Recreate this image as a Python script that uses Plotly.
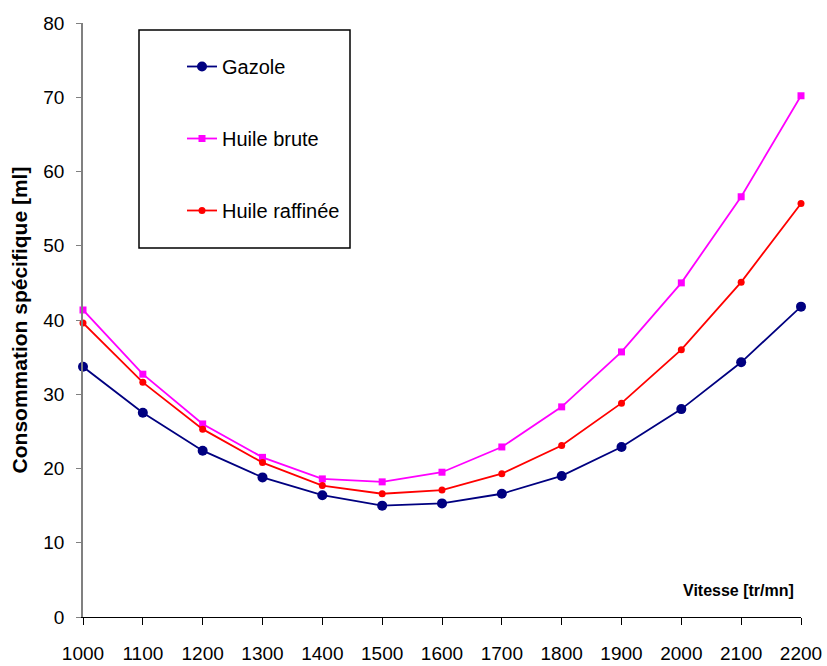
import plotly.graph_objects as go

vitesse = [1000, 1100, 1200, 1300, 1400, 1500, 1600, 1700, 1800, 1900, 2000, 2100, 2200]
gazole = [33.7, 27.5, 22.4, 18.8, 16.4, 15.0, 15.3, 16.6, 19.0, 22.9, 28.0, 34.3, 41.8]
huile_brute = [41.35, 32.7, 26.0, 21.5, 18.6, 18.2, 19.5, 22.9, 28.3, 35.7, 45.0, 56.6, 70.2]
huile_raffinee = [39.6, 31.6, 25.3, 20.8, 17.7, 16.6, 17.1, 19.3, 23.1, 28.8, 36.0, 45.1, 55.7]

W, H = 827, 666
L, R, T, B = 83, 26, 23, 49
pw, ph = W - L - R, H - T - B

def px(x):
    return (x - L) / pw

def py(y):
    return 1 - (y - T) / ph

FONT = "Arial, Liberation Sans, sans-serif"

fig = go.Figure()
fig.add_trace(go.Scatter(x=vitesse, y=gazole, name="Gazole", mode="lines+markers",
                         line=dict(color="#000080", width=1.8),
                         marker=dict(symbol="circle", size=10, color="#000080"),
                         legendgroup="a", cliponaxis=False))
fig.add_trace(go.Scatter(x=vitesse, y=huile_brute, name="Huile brute", mode="lines+markers",
                         line=dict(color="#FF00FF", width=1.8),
                         marker=dict(symbol="square", size=7, color="#FF00FF"),
                         legendgroup="b", cliponaxis=False))
fig.add_trace(go.Scatter(x=vitesse, y=huile_raffinee, name="Huile raffinée", mode="lines+markers",
                         line=dict(color="#FF0000", width=1.8),
                         marker=dict(symbol="circle", size=7, color="#FF0000"),
                         legendgroup="c", cliponaxis=False))

fig.add_shape(type="rect", xref="paper", yref="paper",
              x0=px(139), x1=px(350), y0=py(248), y1=py(30),
              line=dict(color="black", width=1.5), fillcolor="rgba(0,0,0,0)", layer="below")

fig.add_annotation(text="<b>Vitesse [tr/mn]</b>", xref="paper", yref="paper",
                   x=px(796), y=py(590), xanchor="right", yanchor="middle",
                   showarrow=False, font=dict(size=16, family=FONT, color="black"))

fig.update_layout(
    width=W, height=H,
    margin=dict(l=L, r=R, t=T, b=B, pad=0, autoexpand=False),
    paper_bgcolor="white", plot_bgcolor="white",
    font=dict(family=FONT, color="black"),
    showlegend=True,
    legend=dict(x=px(182), y=py(47), xanchor="left", yanchor="top",
                font=dict(size=20, family=FONT), tracegroupgap=43, borderwidth=0,
                bgcolor="rgba(0,0,0,0)", itemwidth=30),
    xaxis=dict(range=[1000, 2200], tickvals=vitesse, showgrid=False, zeroline=False,
               showline=True, linecolor="black", linewidth=1.2, automargin=False,
               ticks="outside", ticklen=7, tickcolor="black",
               tickfont=dict(size=19, family=FONT), ticklabelstandoff=12),
    yaxis=dict(range=[0, 80], dtick=10, showgrid=False, zeroline=False,
               showline=True, linecolor="#808080", linewidth=1.5, automargin=False,
               ticks="outside", ticklen=5, tickcolor="#808080",
               tickfont=dict(size=19, family=FONT), ticklabelstandoff=8,
               title=dict(text="<b>Consommation spécifique [ml]</b>",
                          font=dict(size=21, family=FONT), standoff=10)),
)

fig.write_html("out.html")
